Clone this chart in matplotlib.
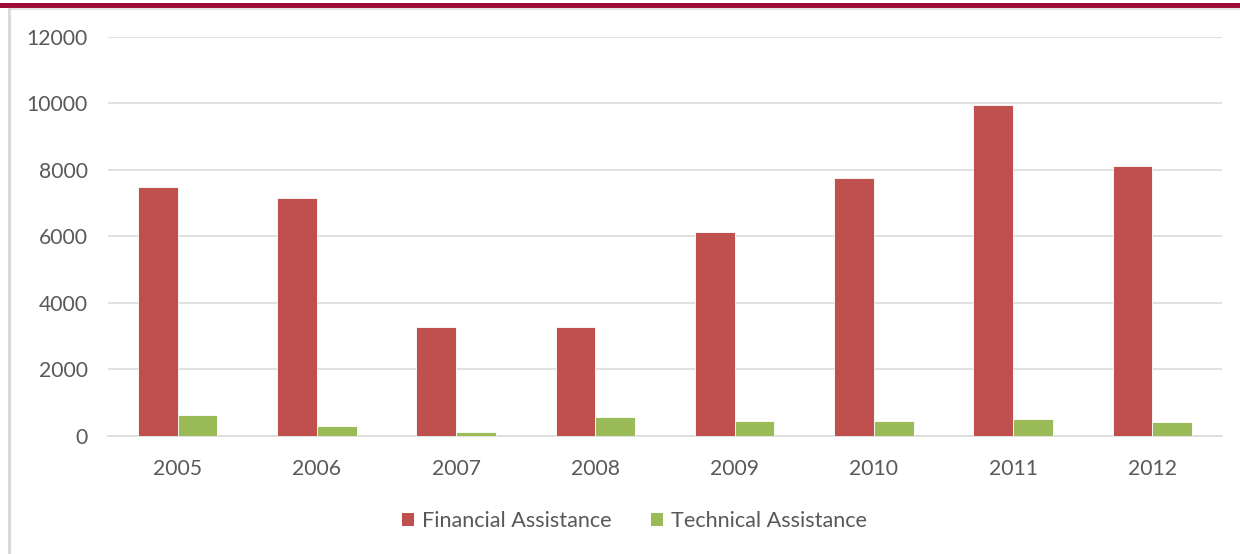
import matplotlib
matplotlib.use("Agg")
import matplotlib.pyplot as plt
from matplotlib.patches import Patch, Rectangle
from matplotlib.lines import Line2D
import numpy as np

years = ["2005", "2006", "2007", "2008", "2009", "2010", "2011", "2012"]
financial = [7480, 7150, 3270, 3260, 6120, 7750, 9950, 8120]
technical = [630, 285, 120, 555, 435, 435, 512, 405]
yticks = [0, 2000, 4000, 6000, 8000, 10000, 12000]

RED = "#C0504D"
GREEN = "#9BBB59"
GRID = "#D9D9D9"
TXT = "#595959"

plt.rcParams["font.family"] = ["Lato", "DejaVu Sans"]

W, H = 1240, 554
fig = plt.figure(figsize=(W / 100, H / 100), dpi=100)
ax = fig.add_axes([108 / W, 1 - 435.7 / H, (1222 - 108) / W, (435.7 - 37) / H])

x = np.arange(len(years))
bw = 1 / 3.5
ax.bar(x - bw / 2, financial, bw, color=RED, edgecolor="white", linewidth=0.6,
       label="Financial Assistance", zorder=3)
ax.bar(x + bw / 2, technical, bw, color=GREEN, edgecolor="white", linewidth=0.6,
       label="Technical Assistance", zorder=3)

ax.set_xlim(-0.5, len(years) - 0.5)
ax.set_ylim(0, 12000)
ax.set_yticks(yticks)
ax.set_yticklabels([str(v) for v in yticks])
ax.set_xticks(x)
ax.set_xticklabels(years)
ax.grid(axis="y", color=GRID, linewidth=1.1, zorder=0)
ax.set_axisbelow(True)
for s in ["top", "right", "left"]:
    ax.spines[s].set_visible(False)
ax.spines["bottom"].set_color(GRID)
ax.spines["bottom"].set_linewidth(1.1)
ax.tick_params(axis="both", length=0, labelsize=15.2, labelcolor=TXT)
ax.tick_params(axis="y", pad=14.5)
ax.tick_params(axis="x", pad=17)

handles = [Patch(facecolor=RED, edgecolor="none"), Patch(facecolor=GREEN, edgecolor="none")]
leg = fig.legend(handles, ["Financial Assistance", "Technical Assistance"],
                 loc="center", bbox_to_anchor=(634.5 / W, 1 - 521 / H), ncol=2,
                 frameon=False, fontsize=15.6, handlelength=0.55, handleheight=0.55,
                 handletextpad=0.4, columnspacing=1.8)
for t in leg.get_texts():
    t.set_color(TXT)

# chart frame decorations
fig.add_artist(Rectangle((0, 1 - 7.5 / H), 1, 4.5 / H, transform=fig.transFigure,
                         facecolor="#9E0B35", edgecolor="none"))
fig.add_artist(Line2D([8.5 / W, 1], [1 - 9 / H, 1 - 9 / H], transform=fig.transFigure,
                      color="#E3E3E3", linewidth=1.5))
fig.add_artist(Line2D([8.5 / W, 8.5 / W], [0, 1 - 9 / H], transform=fig.transFigure,
                      color="#DADADA", linewidth=2.2))

fig.savefig("out.png", dpi=100)
